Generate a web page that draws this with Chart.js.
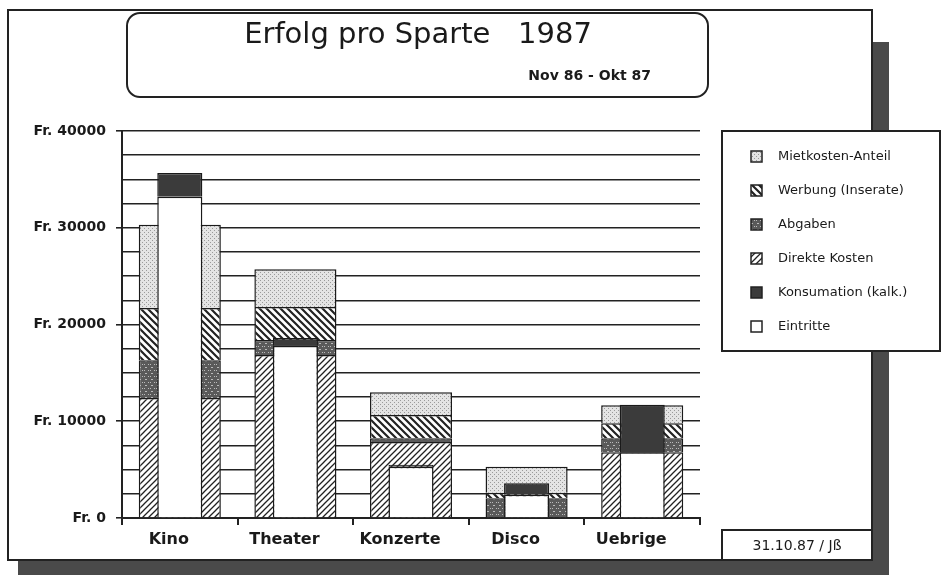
<!DOCTYPE html>
<html>
<head>
<meta charset="utf-8">
<script src="https://cdn.jsdelivr.net/npm/chart.js@4.4.0/dist/chart.umd.min.js"></script>
<style>
  html, body { margin: 0; padding: 0; background: #fff; }
  #wrap { width: 942px; height: 575px; }
</style>
</head>
<body>
<div id="wrap"><canvas id="chart-sparte" width="942" height="575"></canvas></div>
<script>
// Daten: Erfolg pro Sparte 1987 (Fr.)
const categories = ['Kino', 'Theater', 'Konzerte', 'Disco', 'Uebrige'];
const direkteKosten = [12400, 16850, 7850, 0, 6800];
const abgaben = [3900, 1550, 400, 2050, 1450];
const werbung = [5400, 3400, 2400, 550, 1550];
const mietkosten = [8600, 3900, 2350, 2700, 1850];
const eintritte = [33200, 17800, 5300, 2400, 6800];
const konsumation = [2450, 800, 200, 1200, 4900];
const yTicks = [0, 10000, 20000, 30000, 40000];

const titleText = 'Erfolg pro Sparte   1987';
const subTitle = 'Nov 86 - Okt 87';
const dateText = '31.10.87 / Jß';
const FONT = '"DejaVu Sans", sans-serif';

// patterns (Mac fill patterns)
function makePattern(size, draw) {
    const c = document.createElement('canvas');
    c.width = size; c.height = size;
    const g = c.getContext('2d');
    draw(g, size);
    return g.createPattern(c, 'repeat');
}
const patDirekt = makePattern(6, (g, s) => {
    g.fillStyle = '#fff'; g.fillRect(0, 0, s, s);
    g.strokeStyle = '#222'; g.lineWidth = 1.3;
    g.beginPath();
    g.moveTo(-1, s + 1); g.lineTo(s + 1, -1);
    g.moveTo(-1, 1); g.lineTo(1, -1);
    g.moveTo(s - 1, s + 1); g.lineTo(s + 1, s - 1);
    g.stroke();
});
const patWerbung = makePattern(7, (g, s) => {
    g.fillStyle = '#fff'; g.fillRect(0, 0, s, s);
    g.strokeStyle = '#222'; g.lineWidth = 2.2;
    g.beginPath();
    g.moveTo(-1, -1); g.lineTo(s + 1, s + 1);
    g.moveTo(s - 1, -1); g.lineTo(s + 1, 1);
    g.moveTo(-1, s - 1); g.lineTo(1, s + 1);
    g.stroke();
});
const patAbgaben = makePattern(6, (g, s) => {
    g.fillStyle = '#5a5a5a'; g.fillRect(0, 0, s, s);
    g.fillStyle = '#bbb';
    g.fillRect(1, 1, 2, 1); g.fillRect(4, 4, 1, 1); g.fillRect(0, 4, 1, 1);
});
const patMiete = makePattern(4, (g, s) => {
    g.fillStyle = '#e4e4e4'; g.fillRect(0, 0, s, s);
    g.fillStyle = '#9a9a9a';
    g.fillRect(0, 0, 1, 1); g.fillRect(2, 2, 1, 1);
});
const colKonsum = '#3b3b3b';

const legendItems = [
    { label: 'Mietkosten-Anteil', fill: patMiete },
    { label: 'Werbung (Inserate)', fill: patWerbung },
    { label: 'Abgaben', fill: patAbgaben },
    { label: 'Direkte Kosten', fill: patDirekt },
    { label: 'Konsumation (kalk.)', fill: colKonsum },
    { label: 'Eintritte', fill: '#fff' }
];

function roundRectPath(ctx, x, y, w, h, r) {
    ctx.beginPath();
    ctx.moveTo(x + r, y);
    ctx.arcTo(x + w, y, x + w, y + h, r);
    ctx.arcTo(x + w, y + h, x, y + h, r);
    ctx.arcTo(x, y + h, x, y, r);
    ctx.arcTo(x, y, x + w, y, r);
    ctx.closePath();
}

// frame, shadow, title box
const decorPlugin = {
    id: 'decor',
    beforeDraw(chart) {
        const ctx = chart.ctx;
        ctx.save();
        ctx.fillStyle = '#fff';
        ctx.fillRect(0, 0, 942, 575);
        // shadow
        ctx.fillStyle = '#4a4a4a';
        ctx.fillRect(872, 42, 17, 533);
        ctx.fillRect(18, 560, 871, 15);
        // frame
        ctx.fillStyle = '#fff';
        ctx.fillRect(8, 10, 864, 550);
        ctx.strokeStyle = '#222';
        ctx.lineWidth = 2;
        ctx.strokeRect(8, 10, 864, 550);
        // title box
        roundRectPath(ctx, 127, 13, 581, 84, 13);
        ctx.stroke();
        ctx.fillStyle = '#1a1a1a';
        ctx.textBaseline = 'middle';
        ctx.textAlign = 'center';
        ctx.font = '29px ' + FONT;
        ctx.fillText(titleText, 418, 35);
        ctx.textAlign = 'right';
        ctx.font = 'bold 14px ' + FONT;
        ctx.fillText(subTitle, 651, 76);
        ctx.restore();
    },
    afterDraw(chart) {
        const ctx = chart.ctx;
        ctx.save();
        // legend box
        ctx.fillStyle = '#fff';
        ctx.fillRect(722, 131, 218, 220);
        ctx.strokeStyle = '#222';
        ctx.lineWidth = 2;
        ctx.strokeRect(722, 131, 218, 220);
        ctx.textBaseline = 'middle';
        ctx.textAlign = 'left';
        ctx.font = '13px ' + FONT;
        legendItems.forEach((item, i) => {
            const y = 157 + i * 34;
            ctx.fillStyle = item.fill;
            ctx.fillRect(751, y - 6, 11, 11);
            ctx.lineWidth = 1.5;
            ctx.strokeRect(751, y - 6, 11, 11);
            ctx.fillStyle = '#1a1a1a';
            ctx.fillText(item.label, 778, y);
        });
        // date box
        ctx.lineWidth = 2;
        ctx.beginPath();
        ctx.moveTo(722, 560);
        ctx.lineTo(722, 530);
        ctx.lineTo(872, 530);
        ctx.stroke();
        ctx.fillStyle = '#1a1a1a';
        ctx.textAlign = 'center';
        ctx.font = '14px ' + FONT;
        ctx.fillText(dateText, 797, 546);
        ctx.restore();
    }
};

// grouped: false -> Kosten- und Ertragsbalken liegen übereinander (zentriert)
const costBar = { categoryPercentage: 0.71, barPercentage: 1, grouped: false, stack: 'kosten', order: 1, borderColor: '#1a1a1a', borderWidth: 1.5 };
const revBar = { categoryPercentage: 0.39, barPercentage: 1, grouped: false, stack: 'ertrag', order: 0, borderColor: '#1a1a1a', borderWidth: 1.5 };

const ctx = document.getElementById('chart-sparte');
new Chart(ctx, {
    type: 'bar',
    data: {
        labels: categories,
        datasets: [
            Object.assign({ label: 'Direkte Kosten', data: direkteKosten, backgroundColor: patDirekt }, costBar),
            Object.assign({ label: 'Abgaben', data: abgaben, backgroundColor: patAbgaben }, costBar),
            Object.assign({ label: 'Werbung (Inserate)', data: werbung, backgroundColor: patWerbung }, costBar),
            Object.assign({ label: 'Mietkosten-Anteil', data: mietkosten, backgroundColor: patMiete }, costBar),
            Object.assign({ label: 'Eintritte', data: eintritte, backgroundColor: '#fff' }, revBar),
            Object.assign({ label: 'Konsumation (kalk.)', data: konsumation, backgroundColor: colKonsum }, revBar)
        ]
    },
    options: {
        responsive: false,
        animation: false,
        layout: { padding: { top: 131, right: 242, left: 0, bottom: 0 } },
        plugins: {
            legend: { display: false },
            tooltip: { enabled: false }
        },
        scales: {
            x: {
                type: 'category',
                stacked: true,
                offset: true,
                grid: { drawOnChartArea: false, tickLength: 7, color: '#222', lineWidth: 2 },
                border: { color: '#222', width: 2 },
                ticks: { color: '#1a1a1a', padding: 5, labelOffset: -11, font: { family: FONT, size: 16, weight: 'bold' } },
                afterFit: s => { s.height = 57; }
            },
            y: {
                stacked: true,
                min: 0,
                max: 40000,
                ticks: {
                    stepSize: 2500,
                    color: '#1a1a1a',
                    padding: 10,
                    font: { family: FONT, size: 14, weight: 'bold' },
                    callback: v => yTicks.includes(v) ? 'Fr. ' + v : ''
                },
                grid: {
                    color: '#222',
                    lineWidth: 1.6,
                    tickLength: 6,
                    tickColor: c => (c.tick && yTicks.includes(c.tick.value)) ? '#222' : 'rgba(0,0,0,0)'
                },
                border: { color: '#222', width: 2 },
                afterFit: s => { s.width = 122; }
            }
        }
    },
    plugins: [decorPlugin]
});
</script>
</body>
</html>
